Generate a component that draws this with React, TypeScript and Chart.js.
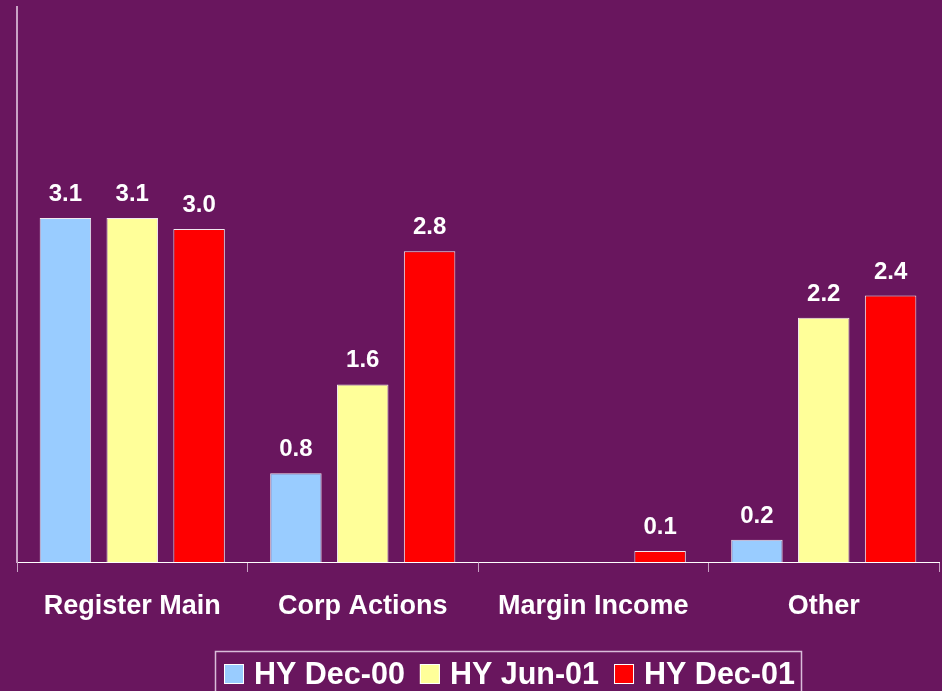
import React, { useEffect, useRef } from "react";
import { Chart, registerables } from "chart.js";

Chart.register(...registerables);

const categories = ["Register Main", "Corp Actions", "Margin Income", "Other"];
const seriesNames = ["HY Dec-00", "HY Jun-01", "HY Dec-01"];
const dec00 = [3.1, 0.8, null, 0.2];
const jun01 = [3.1, 1.6, null, 2.2];
const dec01 = [3.0, 2.8, 0.1, 2.4];
const seriesColors = ["#99CCFF", "#FFFF99", "#FF0000"];

const BG = "#69165E";
const FONT = "'Liberation Sans', Arial, sans-serif";

const backgroundPlugin = {
  id: "bg",
  beforeDraw(chart: any) {
    const { ctx, width, height } = chart;
    ctx.save();
    ctx.fillStyle = BG;
    ctx.fillRect(0, 0, width, height);
    ctx.restore();
  },
};

const labelPlugin = {
  id: "valueLabels",
  afterDatasetsDraw(chart: any) {
    const { ctx } = chart;
    ctx.save();
    ctx.fillStyle = "#FFFFFF";
    ctx.font = `bold 24px ${FONT}`;
    ctx.textAlign = "center";
    ctx.textBaseline = "alphabetic";
    chart.data.datasets.forEach((ds: any, i: number) => {
      const meta = chart.getDatasetMeta(i);
      meta.data.forEach((el: any, j: number) => {
        const v = ds.data[j];
        if (v === null || v === undefined) return;
        ctx.fillText(v.toFixed(1), el.x, el.y - 17);
      });
    });
    ctx.restore();
  },
};

const legendPlugin = {
  id: "customLegend",
  afterDraw(chart: any) {
    const { ctx } = chart;
    ctx.save();
    ctx.strokeStyle = "#D9BCD9";
    ctx.lineWidth = 1.5;
    ctx.strokeRect(215.5, 651.5, 586, 60);
    ctx.font = `bold 30.5px ${FONT}`;
    ctx.textBaseline = "alphabetic";
    ctx.textAlign = "left";
    let x = 224;
    chart.data.datasets.forEach((ds: any) => {
      ctx.fillStyle = ds.backgroundColor;
      ctx.fillRect(x, 664, 20, 20);
      ctx.strokeStyle = "#FFFFFF";
      ctx.lineWidth = 1;
      ctx.strokeRect(x + 0.5, 664.5, 19, 19);
      ctx.fillStyle = "#FFFFFF";
      const tx = x + 30;
      ctx.fillText(ds.label, tx, 684);
      x = tx + ctx.measureText(ds.label).width + 15;
    });
    ctx.restore();
  },
};

export default function App() {
  const ref = useRef<HTMLCanvasElement>(null);
  useEffect(() => {
    document.body.style.margin = "0";
    document.body.style.background = BG;
    const seriesData = [dec00, jun01, dec01];
    const chart = new Chart(ref.current!, {
      type: "bar",
      data: {
        labels: categories,
        datasets: seriesNames.map((name, i) => ({
          label: name,
          data: seriesData[i],
          backgroundColor: seriesColors[i],
          borderColor: "rgba(255,255,255,0.9)",
          borderWidth: 1,
          categoryPercentage: 0.87,
          barPercentage: 0.77,
        })),
      },
      options: {
        responsive: false,
        animation: false,
        devicePixelRatio: 1,
        layout: { padding: { left: 17, right: 3, top: 7, bottom: 0 } },
        plugins: {
          legend: { display: false },
          tooltip: { enabled: false },
        },
        scales: {
          x: {
            afterFit: (s: any) => {
              s.height = 129;
            },
            grid: {
              display: true,
              drawOnChartArea: false,
              drawTicks: true,
              tickLength: 10,
              color: "#C9A3C6",
              lineWidth: 1,
              offset: true,
            },
            border: { display: true, color: "#FFFFFF", width: 1 },
            ticks: {
              color: "#FFFFFF",
              font: { family: FONT, size: 27, weight: "bold" },
              padding: 18,
              maxRotation: 0,
              autoSkip: false,
            },
          },
          y: {
            min: 0,
            max: 5,
            afterFit: (s: any) => {
              s.width = 0;
            },
            grid: { display: false, drawTicks: false },
            border: { display: true, color: "#C9A3C6", width: 2 },
            ticks: { display: false },
          },
        },
      },
      plugins: [backgroundPlugin, labelPlugin, legendPlugin],
    });
    return () => chart.destroy();
  }, []);
  return (
    <div style={{ position: "absolute", left: 0, top: 0, width: 942, height: 691, background: BG }}>
      <canvas ref={ref} width={942} height={691} style={{ display: "block", width: 942, height: 691 }} />
    </div>
  );
}
